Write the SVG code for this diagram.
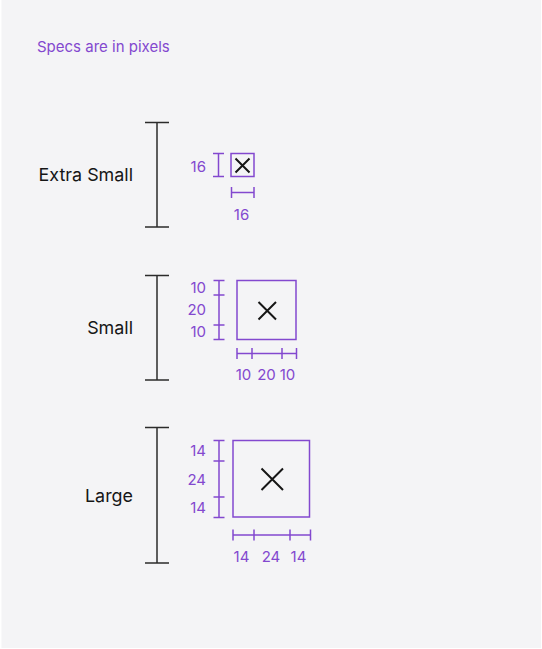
<svg xmlns="http://www.w3.org/2000/svg" width="542" height="649" viewBox="0 0 542 649">
<style>
.bg{fill:#f4f4f6}
.bar{stroke:#2b2b2b;stroke-width:1.5;fill:none}
.dim{stroke:#8348cf;stroke-width:1.5;fill:none}
.box{stroke:#8348cf;stroke-width:1.5;fill:none}
.x{stroke:#161616;stroke-width:2;fill:none}
.lbl{font-family:Inter,"Liberation Sans",sans-serif;font-size:17.9px;fill:#161616;text-anchor:end}
.num{font-family:Inter,"Liberation Sans",sans-serif;font-size:15px;fill:#8348cf}
.r{text-anchor:end}
.c{text-anchor:middle}
.title{font-family:Inter,"Liberation Sans",sans-serif;font-size:15px;fill:#8348cf}
</style>
<rect x="0" y="0" width="542" height="649" fill="#ffffff"/>
<rect class="bg" x="1.5" y="0" width="539.5" height="648"/>
<text class="title" x="37" y="51.5">Specs are in pixels</text>

<g id="extra-small">
  <path class="bar" d="M157 122.5V227M145 122.5H169M145 227H169"/>
  <text class="lbl" x="133" y="181">Extra Small</text>
  <rect class="box" x="231" y="153.5" width="23" height="23"/>
  <path class="x" d="M235.5 158.5L249.5 172.5M249.5 158.5L235.5 172.5"/>
  <path class="dim" d="M218.5 153.5V176.5M213 153.5H224M213 176.5H224"/>
  <path class="dim" d="M231.5 192.5H254M231.5 187V198M254 187V198"/>
  <text class="num r" x="206" y="171.5">16</text>
  <text class="num c" x="241.5" y="219.5">16</text>
</g>

<g id="small">
  <path class="bar" d="M157 275.5V380M145 275.5H169M145 380H169"/>
  <text class="lbl" x="133" y="334">Small</text>
  <rect class="box" x="237" y="280.5" width="59" height="59"/>
  <path class="x" d="M258.5 302L276 319.5M276 302L258.5 319.5"/>
  <path class="dim" d="M219 280.5V339.5M213.5 280.5H224.5M213.5 295H224.5M213.5 325H224.5M213.5 339.5H224.5"/>
  <path class="dim" d="M237 353.5H296.5M237 348V359M252 348V359M282 348V359M296.5 348V359"/>
  <text class="num r" x="206" y="292.7">10</text>
  <text class="num r" x="206" y="315">20</text>
  <text class="num r" x="206" y="336.7">10</text>
  <text class="num c" x="243.5" y="380">10</text>
  <text class="num c" x="266.5" y="380">20</text>
  <text class="num c" x="287.5" y="380">10</text>
</g>

<g id="large">
  <path class="bar" d="M157 427.5V563M145 427.5H169M145 563H169"/>
  <text class="lbl" x="133" y="501.5">Large</text>
  <rect class="box" x="233" y="440.5" width="76.5" height="76.5"/>
  <path class="x" d="M261.5 468.5L283 490M283 468.5L261.5 490"/>
  <path class="dim" d="M219 440.5V517.5M213.5 440.5H224.5M213.5 461H224.5M213.5 497H224.5M213.5 517.5H224.5"/>
  <path class="dim" d="M233 535H310.5M233 529.5V540.5M254 529.5V540.5M290 529.5V540.5M310.5 529.5V540.5"/>
  <text class="num r" x="206" y="456">14</text>
  <text class="num r" x="206" y="485">24</text>
  <text class="num r" x="206" y="513">14</text>
  <text class="num c" x="241.5" y="561.5">14</text>
  <text class="num c" x="271" y="561.5">24</text>
  <text class="num c" x="298.5" y="561.5">14</text>
</g>
</svg>
